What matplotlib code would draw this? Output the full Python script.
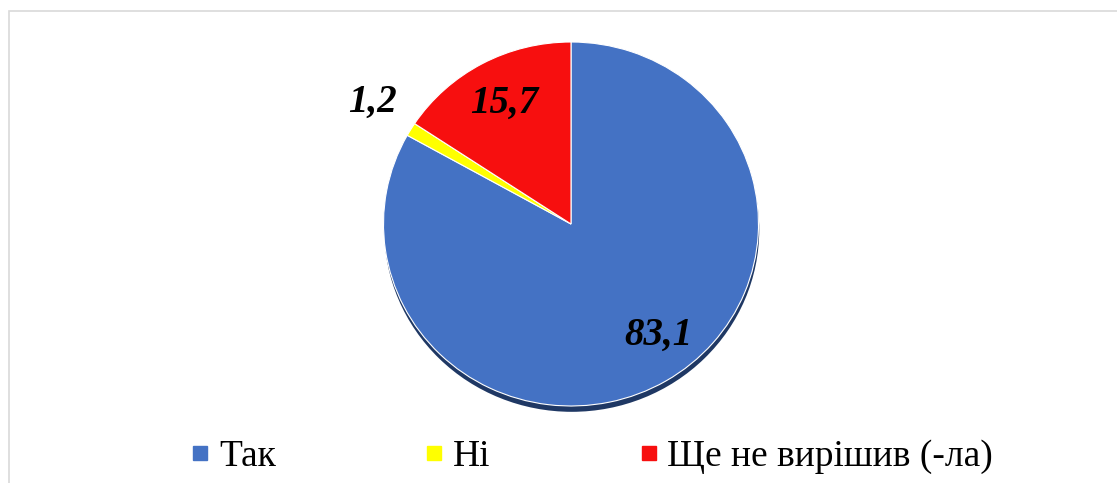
import numpy as np
import matplotlib
matplotlib.use("Agg")
import matplotlib.pyplot as plt
from matplotlib.patches import Rectangle, Circle
from matplotlib.lines import Line2D

categories = ["Так", "Ні", "Ще не вирішив (-ла)"]
values = [83.1, 1.2, 15.7]
value_labels = ["83,1", "1,2", "15,7"]
colors = ["#4472C4", "#FFFF00", "#F70F0F"]

W, H = 1117, 483
fig = plt.figure(figsize=(W / 100, H / 100), dpi=100)
fig.patch.set_facecolor("white")

# outer chart frame
fig.add_artist(Rectangle((9.5 / W, -0.05), 1.2, 1 - 10.5 / H + 0.05,
                         transform=fig.transFigure, fill=False,
                         edgecolor="#D9D9D9", linewidth=1.2))

# pie axes (pixel bbox)
left, right, top, bottom = 383.5, 758.5, 42, 406
ax = fig.add_axes([left / W, 1 - bottom / H, (right - left) / W, (bottom - top) / H])

# shadow
ax.add_patch(Circle((0.004, -0.032), 1.0, facecolor="#1F3864", edgecolor="none",
                    zorder=0, clip_on=False))

wedges, _ = ax.pie(values, colors=colors, startangle=90, counterclock=False,
                   radius=1.0, wedgeprops=dict(edgecolor="white", linewidth=0.8))
for w in wedges:
    w.set_zorder(1)
    w.set_clip_on(False)
ax.set_aspect("auto")
ax.set_xlim(-1, 1)
ax.set_ylim(-1, 1)
ax.axis("off")

label_r = [0.77, 1.25, 0.75]
label_shift = [7.0, -1.0, 0.0]
for w, lab, r, s in zip(wedges, value_labels, label_r, label_shift):
    ang = np.deg2rad((w.theta1 + w.theta2) / 2 + s)
    ax.text(r * np.cos(ang), r * np.sin(ang), lab, ha="center", va="center",
            fontsize=28, fontweight="bold", fontstyle="italic",
            family="Liberation Serif", color="black", zorder=5)

handles = [Line2D([0], [0], marker="s", linestyle="none", markersize=9.5,
                  markerfacecolor=c, markeredgecolor=c) for c in colors]
fs = 27
leg = fig.legend(handles, categories, loc="center", bbox_to_anchor=(593.5 / W, 1 - 457 / H),
                 ncol=3, frameon=False, prop={"family": "Liberation Serif", "size": fs},
                 handlelength=0.35, handletextpad=0.32, columnspacing=4.05,
                 borderpad=0, borderaxespad=0)

fig.savefig("out.png", dpi=100)
